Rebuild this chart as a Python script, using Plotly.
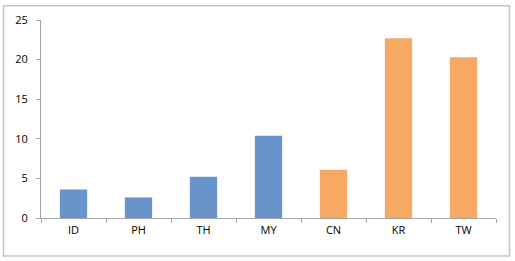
import plotly.graph_objects as go

categories = ["ID", "PH", "TH", "MY", "CN", "KR", "TW"]
values = [3.6, 2.6, 5.2, 10.4, 6.1, 22.7, 20.3]
groups = ["A", "A", "A", "A", "B", "B", "B"]
group_colors = {"A": "#6994CB", "B": "#F5A962"}
y_ticks = [0, 5, 10, 15, 20, 25]

fig = go.Figure(go.Bar(
    x=categories, y=values,
    marker=dict(color=[group_colors[g] for g in groups], line=dict(width=0)),
))

L, R, T, B = 41, 496, 18, 218
W, H = 515, 261
pw, ph = R - L, B - T

def px(x):
    return (x - L) / pw

def py(y):
    return (B - y) / ph

fig.update_layout(
    width=W, height=H,
    margin=dict(l=L, r=W - R, t=T, b=H - B),
    paper_bgcolor="white", plot_bgcolor="white",
    bargap=0.58,
    showlegend=False,
    font=dict(family="Open Sans", size=11, color="#000000"),
    xaxis=dict(
        type="category", showgrid=False, showline=True, linecolor="#A6A6A6", linewidth=1,
        ticks="outside", tickson="boundaries", ticklen=4, tickcolor="#A6A6A6",
        tickfont=dict(size=11), fixedrange=True, ticklabelstandoff=2,
    ),
    yaxis=dict(
        range=[0, 25], tickvals=y_ticks, showgrid=False, showline=True,
        linecolor="#A6A6A6", linewidth=1, ticks="outside", ticklen=4,
        tickcolor="#A6A6A6", tickfont=dict(size=11), zeroline=False, fixedrange=True,
        ticklabelstandoff=6,
    ),
    shapes=[dict(
        type="rect", xref="paper", yref="paper",
        x0=px(3.5), x1=px(509.5), y0=py(256.5), y1=py(3.5),
        line=dict(color="#C4C4C4", width=1.5), layer="below",
    )],
)

fig.write_html("out.html")
